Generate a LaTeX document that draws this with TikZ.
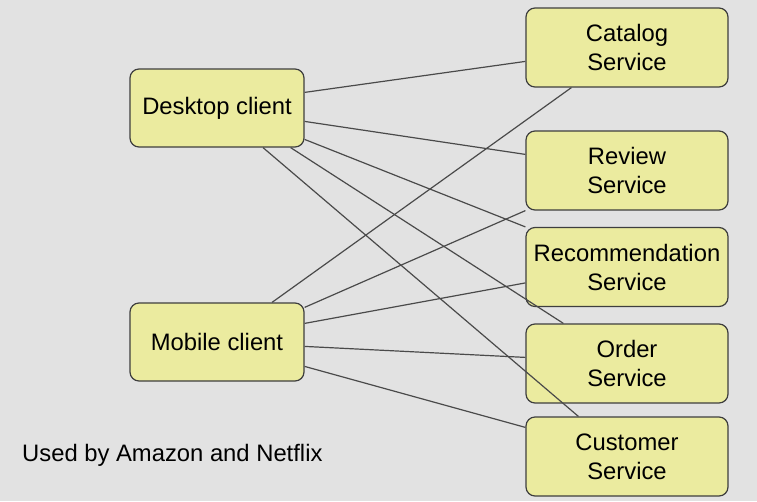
\documentclass[tikz,border=0pt]{standalone}
\usepackage{fontspec}
\setmainfont{Liberation Sans}
\definecolor{bg}{HTML}{E2E2E2}
\definecolor{boxfill}{HTML}{EBEB9F}
\definecolor{boxline}{HTML}{3E3E3E}
\definecolor{wire}{HTML}{4A4A4A}
\begin{document}
\begin{tikzpicture}[x=1pt,y=-1pt,
  svc/.style={draw=boxline,fill=boxfill,line width=1.2pt,rounded corners=9pt,
    minimum width=202pt,minimum height=79pt,align=center,inner sep=0pt,
    font=\fontsize{23.8}{29}\selectfont},
  cli/.style={svc,minimum width=174pt,minimum height=78pt},
  wirestyle/.style={draw=wire,line width=1.2pt}]
\fill[bg] (0,0) rectangle (757,501);
\useasboundingbox (0,0) rectangle (757,501);
\node[cli] (desk) at (217,108) {Desktop client};
\node[cli] (mob) at (217,342) {Mobile client};
\node[svc] (cat) at (627,47.5) {Catalog\\Service};
\node[svc] (rev) at (627,170.5) {Review\\Service};
\node[svc] (rec) at (627,267) {Recommendation\\Service};
\node[svc] (ord) at (627,363.5) {Order\\Service};
\node[svc] (cus) at (627,456.5) {Customer\\Service};
\node[anchor=west,inner sep=0pt,font=\fontsize{23.8}{28}\selectfont] (note) at (22,455) {Used by Amazon and Netflix};
\path[wirestyle] ([yshift=-24pt]desk.north east) -- ([yshift=-54pt]cat.north west);
\path[wirestyle] ([yshift=-53pt]desk.north east) -- ([yshift=-24pt]rev.north west);
\path[wirestyle] ([yshift=-71pt]desk.north east) -- (rec.north west);
\path[wirestyle] ([xshift=-14pt]desk.south east) -- ([xshift=38pt]ord.north west);
\path[wirestyle] ([xshift=46pt]desk.south) -- ([xshift=53pt]cus.north west);
\path[wirestyle] ([xshift=55pt]mob.north) -- ([xshift=46pt]cat.south west);
\path[wirestyle] ([yshift=-5pt]mob.north east) -- (rev.south west);
\path[wirestyle] ([yshift=-21pt]mob.north east) -- ([yshift=-56pt]rec.north west);
\path[wirestyle] ([yshift=-44pt]mob.north east) -- ([yshift=-34pt]ord.north west);
\path[wirestyle] ([yshift=-64pt]mob.north east) -- ([yshift=-11pt]cus.north west);
\end{tikzpicture}
\end{document}
